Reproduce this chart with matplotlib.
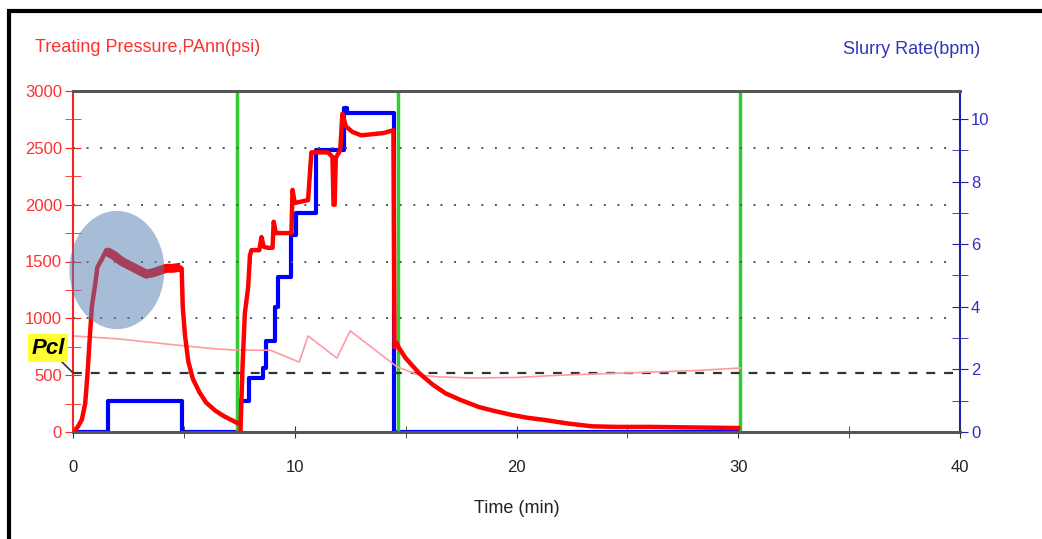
import matplotlib.pyplot as plt
from matplotlib.patches import Ellipse, Rectangle
from matplotlib.ticker import MultipleLocator

plt.rcParams['font.family'] = ['Liberation Sans', 'DejaVu Sans']

# treating pressure (psi)
t_p1 = [0, 0.2, 0.4, 0.55, 0.65, 0.75, 0.85, 1.0, 1.1, 1.3, 1.5, 1.8, 2.2, 2.6, 3.0, 3.3, 3.6, 3.9, 4.2, 4.5, 4.8, 4.9,
        4.95, 5.05, 5.2, 5.4, 5.7, 6.0, 6.4, 6.8, 7.2, 7.4]
p1 = [0, 40, 110, 250, 500, 810, 1100, 1300, 1450, 1520, 1600, 1560, 1500, 1450, 1400, 1370, 1390, 1420, 1440, 1430, 1450, 1440,
      1100, 850, 620, 470, 350, 260, 190, 140, 100, 80]
# noisy band on the plateau
t_band = [1.5, 1.8, 2.2, 2.6, 3.0, 3.3, 3.6, 3.9, 4.2, 4.5, 4.85]
p_band = [1590, 1560, 1500, 1460, 1420, 1390, 1400, 1420, 1440, 1440, 1450]
t_p2 = [7.55, 7.6, 7.65, 7.75, 7.9, 7.98, 8.05, 8.4, 8.5, 8.6, 8.8, 9.0, 9.05, 9.15, 9.3, 9.85, 9.9, 10.0, 10.6, 10.75, 11.5,
        11.7, 11.75, 11.8, 11.85, 12.05, 12.15, 12.3, 12.6, 13.0, 13.5, 14.0, 14.45, 14.5]
p2 = [0, 300, 600, 1045, 1275, 1555, 1600, 1600, 1715, 1630, 1620, 1620, 1850, 1750, 1750, 1750, 2130, 2015, 2040, 2460, 2460,
      2420, 2000, 2000, 2410, 2480, 2800, 2690, 2640, 2610, 2620, 2630, 2655, 750]
t_p3 = [14.6, 14.7, 15.0, 15.6, 16.2, 16.8, 17.5, 18.3, 19.0, 19.8, 20.5, 21.3, 22.3, 23.4, 24.5, 26.0, 28.0, 30.0]
p3 = [780, 740, 650, 520, 420, 340, 280, 220, 185, 150, 125, 105, 75, 50, 45, 45, 40, 35]

# annulus pressure (thin pink)
t_ann = [0, 2, 4.4, 6.5, 7.4, 8.9, 10.2, 10.6, 11.9, 12.5, 14.6, 15.6, 16.5, 18.0, 20.0, 22.0, 25.0, 28.0, 30.1]
p_ann = [845, 820, 770, 730, 720, 720, 615, 845, 650, 890, 575, 500, 485, 475, 480, 500, 520, 540, 563]

# slurry rate (bpm), step data
t_rate = [0, 1.6, 4.9, 7.5, 7.95, 8.55, 8.7, 9.1, 9.25, 9.85, 10.05, 10.95, 12.2, 12.35, 14.48, 30.1]
rate = [0, 1.0, 0, 1.0, 1.72, 2.05, 2.9, 4.0, 4.95, 6.3, 7.0, 9.0, 10.35, 10.2, 0, 0]

stage_lines = [7.4, 14.65, 30.1]
grid_psi = [1000, 1500, 2000, 2500]
pcl = 520

fig = plt.figure(figsize=(10.42, 5.39), dpi=100)
ax = fig.add_axes([73 / 1042, 1 - 432 / 539, 887 / 1042, 341 / 539])
ax2 = ax.twinx()
# pressure curves drawn over the rate curve
ax.set_zorder(ax2.get_zorder() + 1)
ax.patch.set_visible(False)

ax.set_xlim(0, 40)
ax.set_ylim(0, 3000)
ax2.set_ylim(0, 341 / 31.3)

for g in grid_psi:
    ax.axhline(g, color='#555555', ls=(0, (1, 6)), lw=1.4, xmax=0.995)
ax.axhline(pcl, color='#333333', ls=(0, (4, 4)), lw=1.6)

ax.plot(t_ann, p_ann, color='#ff9aa2', lw=1.2)
ax.plot(t_p1, p1, color='#ff0000', lw=3.2)
ax.plot(t_band, p_band, color='#ff0000', lw=6.5, solid_capstyle='butt')
ax.plot(t_p2, p2, color='#ff0000', lw=3.2)
ax.plot(t_p3, p3, color='#ff0000', lw=3.2)
ax2.plot(t_rate, rate, color='#0000ff', lw=3, drawstyle='steps-post')

for x in stage_lines:
    ax.axvline(x, color='#33cc33', lw=2.5, ymax=0.99, zorder=1.5)

ell = Ellipse((1.98, 1425), 4.28, 1040, facecolor='#547db2', alpha=0.51, edgecolor='none',
              clip_on=False, zorder=5)
ax.add_patch(ell)

# ticks and spines
ax.xaxis.set_major_locator(MultipleLocator(10))
ax.xaxis.set_minor_locator(MultipleLocator(5))
ax.yaxis.set_major_locator(MultipleLocator(500))
ax.yaxis.set_minor_locator(MultipleLocator(250))
ax2.yaxis.set_major_locator(MultipleLocator(2))
ax2.yaxis.set_minor_locator(MultipleLocator(1))

ax.tick_params(axis='x', which='both', direction='inout', length=8, colors='#333333', labelcolor='#222222',
               labelsize=12, pad=16)
ax.tick_params(axis='y', which='both', direction='inout', length=12, color='#ff2020', labelcolor='#ff3030',
               labelsize=12, pad=2)
ax2.tick_params(axis='y', which='both', direction='inout', length=12, color='#2020b0', labelcolor='#3030c0',
                labelsize=12, pad=2)

ax.spines['left'].set_color('#ff2020')
ax.spines['left'].set_linewidth(1.5)
ax2.spines['right'].set_color('#2020b0')
ax2.spines['right'].set_linewidth(1.5)
for a in (ax, ax2):
    a.spines['top'].set_color('#555555')
    a.spines['top'].set_linewidth(2)
    a.spines['bottom'].set_color('#555555')
    a.spines['bottom'].set_linewidth(2)
ax2.spines['left'].set_visible(False)
ax.spines['right'].set_visible(False)

ax.set_xlabel('Time (min)', fontsize=13, color='#222222', labelpad=18)
fig.text(35 / 1042, 1 - 48 / 539, 'Treating Pressure,PAnn(psi)', color='#ff3030', fontsize=13,
         ha='left', va='center')
fig.text(980 / 1042, 1 - 50 / 539, 'Slurry Rate(bpm)', color='#3333bb', fontsize=13,
         ha='right', va='center')

ax.annotate('Pcl', xy=(0, pcl), xycoords='data', xytext=(48 / 1042, 1 - 348 / 539), textcoords='figure fraction',
            ha='center', va='center', fontsize=16, fontweight='bold', fontstyle='italic', color='black',
            bbox=dict(boxstyle='square,pad=0.15', facecolor='#ffff33', edgecolor='none'),
            arrowprops=dict(arrowstyle='-', color='#333333', lw=1.2, shrinkA=0, shrinkB=0),
            annotation_clip=False)

# outer frame of the screenshot
fig.add_artist(Rectangle((9 / 1042, -0.1), 1.2, 1 - 11 / 539 + 0.1, transform=fig.transFigure,
                         fill=False, edgecolor='black', lw=3))

fig.savefig('out.png', dpi=100)
